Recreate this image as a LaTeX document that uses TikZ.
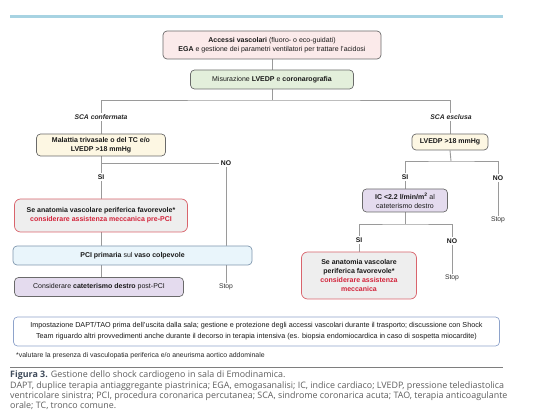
\documentclass[tikz,border=0pt]{standalone}
\usepackage{fontspec}
\setmainfont{Liberation Sans}
\newfontfamily\capfont{Open Sans}
\usetikzlibrary{backgrounds}
\definecolor{topline}{HTML}{A7D3E2}
\definecolor{pinkfill}{HTML}{FBEAEA}
\definecolor{greenfill}{HTML}{E3EFDB}
\definecolor{creamfill}{HTML}{FDF7E3}
\definecolor{grayfill}{HTML}{EEEEEE}
\definecolor{redborder}{HTML}{D9646C}
\definecolor{redtext}{HTML}{D2233A}
\definecolor{bluefill}{HTML}{E9F5FB}
\definecolor{blueborder}{HTML}{7F97AE}
\definecolor{purplefill}{HTML}{E4DBEE}
\definecolor{footborder}{HTML}{8EA3CB}
\definecolor{boxborder}{HTML}{6A6A6A}
\definecolor{conn}{HTML}{9A9A9A}
\definecolor{captext}{HTML}{5E5E5E}
\definecolor{capbold}{HTML}{3E4A5A}
\begin{document}
\begin{tikzpicture}[x=1pt,y=-1pt,
  box/.style={draw=boxborder,line width=0.7pt,rounded corners=4pt,align=center,inner sep=1pt,font=\fontsize{7}{8.7}\selectfont,text=black!90},
  pinkbox/.style={box,fill=pinkfill},
  greenbox/.style={box,fill=greenfill},
  creambox/.style={box,fill=creamfill},
  redbox/.style={box,fill=grayfill,draw=redborder,rounded corners=6pt,font=\fontsize{7}{9}\selectfont},
  bluebox/.style={box,fill=bluefill,draw=blueborder},
  purplebox/.style={box,fill=purplefill},
  footbox/.style={box,fill=white,draw=footborder,font=\fontsize{7.2}{11}\selectfont},
  lbl/.style={font=\fontsize{6.8}{8}\selectfont\bfseries,fill=white,inner sep=1.5pt,text=black!90},
  scalbl/.style={font=\fontsize{6.8}{8}\selectfont\bfseries\itshape,fill=white,inner sep=1.5pt,text=black!85},
  stoplbl/.style={font=\fontsize{6.8}{8}\selectfont,inner sep=1pt,text=black!80},
  connector/.style={draw=conn,line width=0.9pt}
]
\useasboundingbox (0,0) rectangle (533,419);
\draw[topline,line width=3pt] (10,17) -- (503,17);

\node[pinkbox,minimum width=218pt,minimum height=28pt] (acc) at (272,45)
  {\textbf{Accessi vascolari} (fluoro- o eco-guidati)\\\textbf{EGA} e gestione dei parametri ventilatori per trattare l'acidosi};
\node[greenbox,minimum width=163pt,minimum height=19pt] (mis) at (272,79.5)
  {Misurazione \textbf{LVEDP} e \textbf{coronarografia}};
\coordinate (j1) at (272,100);

\node[scalbl] (sca1) at (101,117) {SCA confermata};
\node[scalbl] (sca2) at (451,117) {SCA esclusa};

\node[creambox,minimum width=129pt,minimum height=22pt] (mal) at (101,145)
  {\textbf{Malattia trivasale o del TC e/o}\\\textbf{LVEDP >18 mmHg}};
\node[creambox,minimum width=76pt,minimum height=16pt] (lv) at (450,142)
  {\textbf{LVEDP >18 mmHg}};

\node[lbl] (si1) at (101,177) {SI};
\node[lbl] (no1) at (226,163) {NO};
\node[stoplbl] (stop1) at (226,287) {Stop};

\node[redbox,minimum width=173pt,minimum height=33pt] (anat1) at (101,215.5)
  {\textbf{Se anatomia vascolare periferica favorevole*}\\\textcolor{redtext}{\textbf{considerare assistenza meccanica pre-PCI}}};
\node[bluebox,minimum width=239pt,minimum height=19pt] (pci) at (132.5,255.5)
  {\textbf{PCI primaria} sul \textbf{vaso colpevole}};
\node[purplebox,minimum width=169pt,minimum height=19pt] (cat) at (99,287)
  {Considerare \textbf{cateterismo destro} post-PCI};

\coordinate (j2) at (451,161);
\node[lbl] (si2) at (405,177) {SI};
\node[lbl] (no2) at (498,178) {NO};
\node[stoplbl] (stop2) at (498,220) {Stop};
\node[purplebox,minimum width=85pt,minimum height=23pt] (ic) at (405,200.5)
  {\textbf{IC <2.2 l/min/m\textsuperscript{2}} al\\cateterismo destro};
\coordinate (j3) at (405,224);
\node[lbl] (si3) at (359,240) {SI};
\node[lbl] (no3) at (452,241) {NO};
\node[stoplbl] (stop3) at (452,278) {Stop};
\node[redbox,minimum width=115pt,minimum height=47pt] (anat2) at (359,275.5)
  {\textbf{Se anatomia vascolare}\\\textbf{periferica favorevole*}\\\textcolor{redtext}{\textbf{considerare assistenza}}\\\textcolor{redtext}{\textbf{meccanica}}};

\node[footbox,minimum width=486pt,minimum height=29pt] (foot) at (256.5,331.5)
  {Impostazione DAPT/TAO prima dell'uscita dalla sala; gestione e protezione degli accessi vascolari durante il trasporto; discussione con Shock\\Team riguardo altri provvedimenti anche durante il decorso in terapia intensiva (es. biopsia endomiocardica in caso di sospetta miocardite)};
\node[anchor=west,inner sep=0pt,font=\fontsize{6.9}{7}\selectfont,text=black!85] (fn) at (16,356)
  {*valutare la presenza di vasculopatia periferica e/o aneurisma aortico addominale};

\draw[captext!80,line width=0.6pt] (10,367.5) -- (503,367.5);
\node[anchor=north west,inner sep=0pt,align=left,text=captext,font=\capfont\fontsize{8.9}{8.6}\selectfont] (cap) at (10,370.5)
  {\textcolor{capbold}{\textbf{Figura 3.}} Gestione dello shock cardiogeno in sala di Emodinamica.\\[1pt]
   DAPT, duplice terapia antiaggregante piastrinica; EGA, emogasanalisi; IC, indice cardiaco; LVEDP, pressione telediastolica\\
   ventricolare sinistra; PCI, procedura coronarica percutanea; SCA, sindrome coronarica acuta; TAO, terapia anticoagulante\\
   orale; TC, tronco comune.};

\begin{scope}[on background layer]
  \draw[connector] (acc.south) -- (mis.north);
  \draw[connector] (mis.south) -- (j1);
  \draw[connector] (mal.north) |- (j1) -| (lv.north);
  \draw[connector] (mal.south) -- (mal.south |- cat.north);
  \draw[connector] (mal.south |- no1) -- (no1.west);
  \draw[connector] (no1.south) -- (stop1.north);
  \draw[connector] (lv.south) -- (j2);
  \draw[connector] (ic.north) |- (j2) -| (no2.north);
  \draw[connector] (no2.south) -- (stop2.north);
  \draw[connector] (ic.south) -- (j3);
  \draw[connector] (anat2.north) |- (j3) -| (no3.north);
  \draw[connector] (no3.south) -- (stop3.north);
\end{scope}
\end{tikzpicture}
\end{document}
